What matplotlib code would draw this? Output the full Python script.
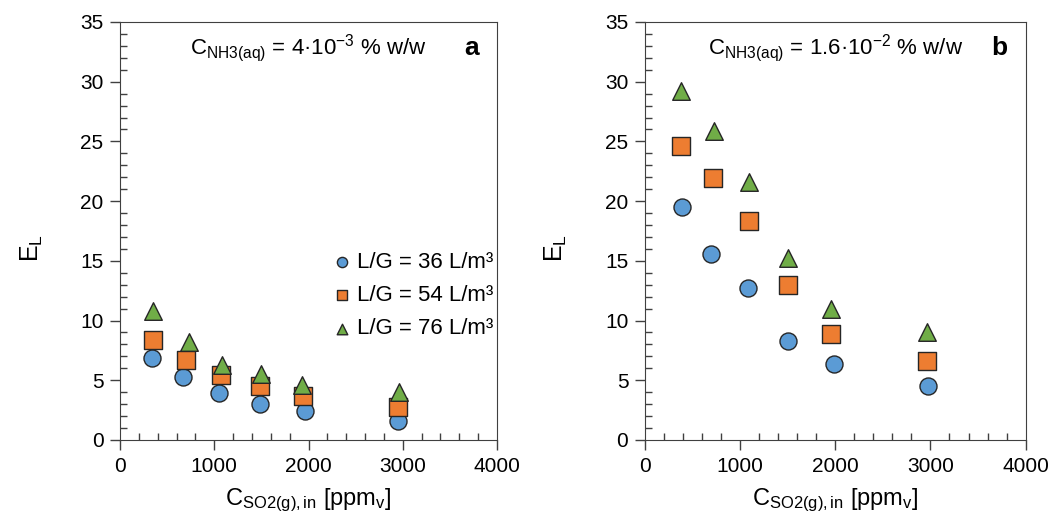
import matplotlib
matplotlib.use("Agg")
import matplotlib.pyplot as plt
from matplotlib.ticker import MultipleLocator

plt.rcParams['font.family'] = ['Liberation Sans', 'DejaVu Sans']
plt.rcParams['mathtext.fontset'] = 'custom'
plt.rcParams['mathtext.rm'] = 'Liberation Sans'
plt.rcParams['mathtext.it'] = 'Liberation Sans'
plt.rcParams['mathtext.bf'] = 'Liberation Sans:bold'

labels = ['L/G = 36 L/m³', 'L/G = 54 L/m³', 'L/G = 76 L/m³']
colors = ['#5B9BD5', '#ED7D31', '#70AD47']
markers = ['o', 's', '^']

# panel a
a_x36 = [340, 670, 1050, 1480, 1960, 2950]
a_y36 = [6.9, 5.3, 3.9, 3.0, 2.4, 1.6]
a_x54 = [350, 700, 1070, 1490, 1940, 2950]
a_y54 = [8.4, 6.7, 5.4, 4.5, 3.7, 2.8]
a_x76 = [350, 730, 1080, 1500, 1930, 2960]
a_y76 = [10.8, 8.2, 6.3, 5.5, 4.6, 4.0]

# panel b
b_x36 = [390, 695, 1084, 1505, 1990, 2970]
b_y36 = [19.5, 15.6, 12.7, 8.3, 6.4, 4.5]
b_x54 = [380, 715, 1095, 1505, 1958, 2968]
b_y54 = [24.6, 21.9, 18.3, 13.0, 8.9, 6.6]
b_x76 = [380, 726, 1095, 1505, 1950, 2968]
b_y76 = [29.2, 25.9, 21.6, 15.2, 11.0, 9.0]

panels = [
    ([a_x36, a_x54, a_x76], [a_y36, a_y54, a_y76], r'C$_{\mathrm{NH3(aq)}}$ = 4·10$^{-3}$ % w/w', 'a'),
    ([b_x36, b_x54, b_x76], [b_y36, b_y54, b_y76], r'C$_{\mathrm{NH3(aq)}}$ = 1.6·10$^{-2}$ % w/w', 'b'),
]

fig = plt.figure(figsize=(10.53, 5.18), dpi=100)
axes = [fig.add_axes([0.114, 0.1506, 0.358, 0.807]),
        fig.add_axes([0.6125, 0.1506, 0.3615, 0.807])]

for ax, (xs, ys, note, letter) in zip(axes, panels):
    for x, y, c, m, lab in zip(xs, ys, colors, markers, labels):
        ax.scatter(x, y, s=150 if m != '^' else 160, c=c, marker=m,
                   edgecolors='#262626', linewidths=1.0, label=lab, zorder=3)
    ax.set_xlim(0, 4000)
    ax.set_ylim(0, 35)
    ax.xaxis.set_major_locator(MultipleLocator(1000))
    ax.xaxis.set_minor_locator(MultipleLocator(200))
    ax.yaxis.set_major_locator(MultipleLocator(5))
    ax.yaxis.set_minor_locator(MultipleLocator(1))
    ax.tick_params(which='major', direction='out', length=7, width=1, labelsize=15, pad=5,
                   color='#404040')
    ax.tick_params(which='minor', direction='in', length=5, width=1, color='#404040')
    for sp in ax.spines.values():
        sp.set_color('#404040')
    ax.set_xlabel(r'C$_{\mathrm{SO2(g),in}}$ [ppm$_{\mathrm{v}}$]', fontsize=17, labelpad=8)
    ax.set_ylabel(r'E$_{\mathrm{L}}$', fontsize=18, labelpad=14)
    ax.yaxis.set_label_coords(-0.2, 0.46)
    ax.text(0.50, 0.938, note, transform=ax.transAxes, ha='center', va='center', fontsize=16)
    ax.text(0.932, 0.938, letter, transform=ax.transAxes, ha='center', va='center',
            fontsize=19, fontweight='bold')

axes[0].legend(loc='center right', bbox_to_anchor=(1.03, 0.345), frameon=False,
               fontsize=16, handlelength=0.8, handletextpad=0.25, markerscale=0.6,
               labelspacing=0.55, borderpad=0.2)

fig.savefig('out.png', dpi=100)
